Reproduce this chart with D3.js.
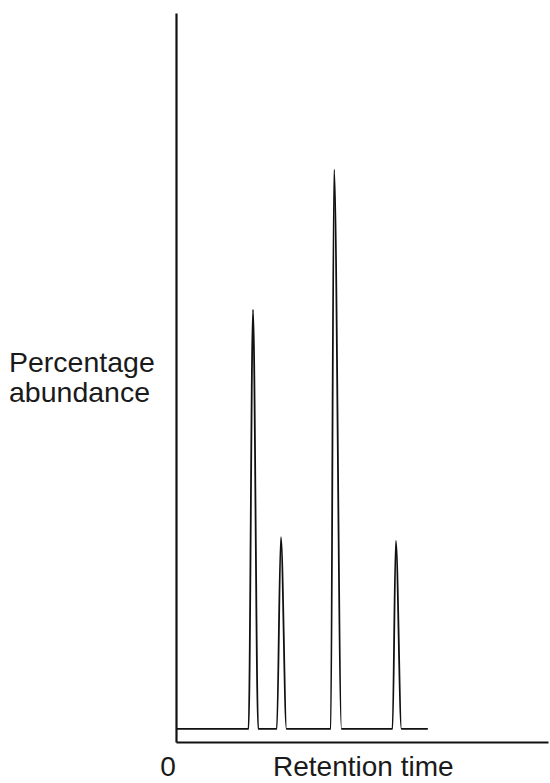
<!DOCTYPE html>
<html>
<head>
<meta charset="utf-8">
<script src="https://cdn.jsdelivr.net/npm/d3@7"></script>
<style>
  body { margin: 0; background: white; }
  text { font-family: "Liberation Sans", Arial, sans-serif; fill: #1a1a1a; }
</style>
</head>
<body>
<div id="canvas"></div>
<script>
"use strict"

/* chromatogram trace (time in arbitrary units, abundance in %) */
let traceTime      = [0,   1.95, 2.07, 2.21, 2.71, 2.82, 2.97, 4.16, 4.25, 4.45, 5.82, 5.91, 6.06, 6.77];
let traceAbundance = [1.8, 1.8,  59.3, 1.8,  1.8,  28.1, 1.8,  1.8,  78.5, 1.8,  1.8,  27.6, 1.8,  1.8];

let xLabels = ["0"];
let xTitle = "Retention time";
let yTitle = ["Percentage", "abundance"];

let trace = traceTime.map((t, i) => ({ t: t, a: traceAbundance[i] }));

/* drawing canvas */
let drawing = d3.select("#canvas")
    .append("svg")
    .attr("width", 550)
    .attr("height", 783);

let x = d3.scaleLinear().domain([0, 10]).range([176, 548]);
let y = d3.scaleLinear().domain([0, 100]).range([742, 13]);

/* the signal */
let line = d3.line()
  .x(d => x(d.t))
  .y(d => y(d.a))
  .curve(d3.curveMonotoneX);

drawing.append("path")
  .datum(trace)
  .attr("d", line)
  .attr("fill", "none")
  .attr("stroke", "#111")
  .attr("stroke-width", 1.8)
  .attr("stroke-linejoin", "round");

/* axes: plain lines, no ticks */
let yAxis = drawing.append("g")
  .attr("transform", `translate(${x(0)},0)`)
  .call(d3.axisLeft(y).tickValues([]).tickSizeOuter(0));

let xAxis = drawing.append("g")
  .attr("transform", `translate(0,${y(0)})`)
  .call(d3.axisBottom(x).tickValues([]).tickSizeOuter(0));

drawing.selectAll(".domain")
  .attr("stroke", "#111")
  .attr("stroke-width", 2.2);

/* origin label */
drawing.selectAll(".xlab")
  .data(xLabels)
  .enter()
  .append("text")
  .attr("class", "xlab")
  .attr("x", x(0) - 8)
  .attr("y", 776)
  .attr("text-anchor", "middle")
  .attr("font-size", 28)
  .text(d => d);

/* axis titles */
drawing.append("text")
  .attr("x", 273)
  .attr("y", 776)
  .attr("font-size", 28)
  .text(xTitle);

drawing.append("text")
  .attr("x", 9)
  .attr("y", 372)
  .attr("font-size", 28.5)
  .selectAll("tspan")
  .data(yTitle)
  .enter()
  .append("tspan")
  .attr("x", 9)
  .attr("dy", (d, i) => i === 0 ? 0 : 30)
  .text(d => d);
</script>
</body>
</html>
